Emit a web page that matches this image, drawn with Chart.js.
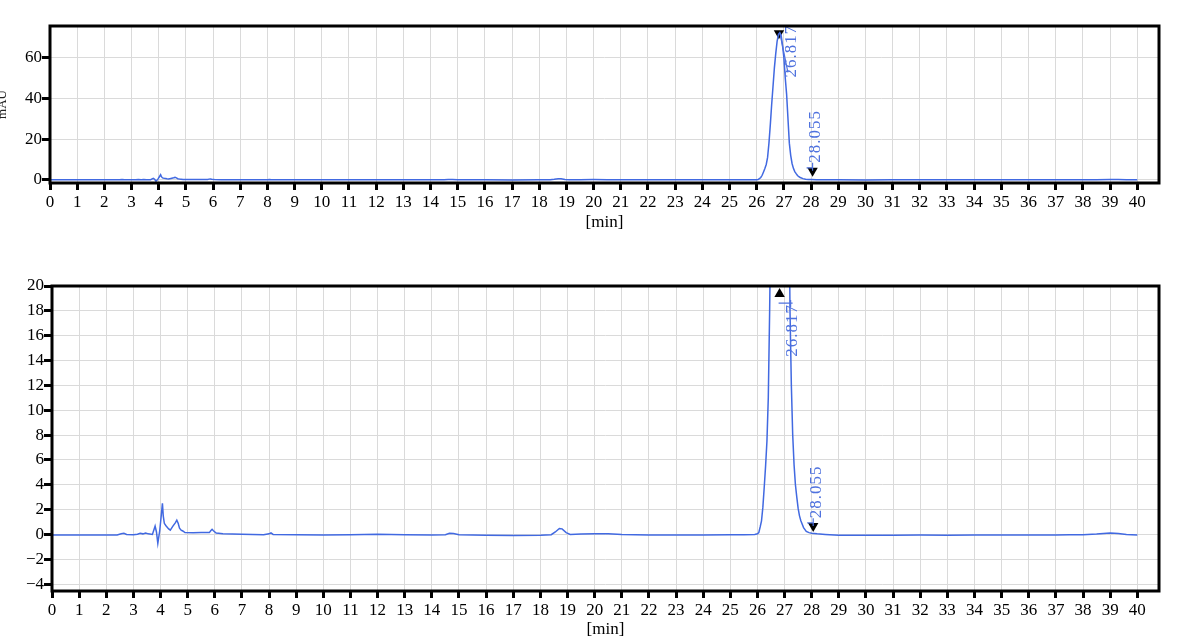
<!DOCTYPE html>
<html><head><meta charset="utf-8">
<script src="https://cdn.jsdelivr.net/npm/chart.js@4.4.1/dist/chart.umd.min.js"></script>
<style>
html,body{margin:0;padding:0;background:#fff;width:1193px;height:644px;overflow:hidden}
#top{position:absolute;left:0;top:0;width:1193px;height:240px}
#bot{position:absolute;left:0;top:240px;width:1193px;height:404px}
</style></head><body>
<div id="top"><canvas id="c1"></canvas></div>
<div id="bot"><canvas id="c2"></canvas></div>
<script>
// ---- data (retention time in min, absorbance in mAU) ----
const times = [
  0, 0.5, 1.0, 1.5, 2.0, 2.4, 2.55, 2.65, 2.75, 3.0, 3.15, 3.25, 3.35, 3.45, 3.55, 3.7,
  3.8, 3.85, 3.9, 3.97, 4.03, 4.07, 4.1, 4.14, 4.2, 4.3, 4.36, 4.45, 4.55, 4.6, 4.65, 4.7,
  4.76, 4.82, 4.9, 5.2, 5.5, 5.8, 5.85, 5.9, 5.95, 6.05, 6.3, 7.0, 7.8, 8.0, 8.07, 8.15,
  9, 10, 11, 12, 13, 14, 14.5, 14.65, 14.8, 15, 16, 17, 18, 18.4, 18.55, 18.7, 18.8, 18.95,
  19.1, 19.5, 20.0, 20.5, 21.0, 22, 23, 24, 25, 25.5, 25.9, 26.0, 26.05, 26.1, 26.15, 26.2,
  26.25, 26.3, 26.35, 26.4, 26.45, 26.5, 26.55, 26.6, 26.65, 26.7, 26.75, 26.8, 26.85, 26.9,
  26.95, 27.0, 27.05, 27.1, 27.15, 27.2, 27.25, 27.3, 27.35, 27.4, 27.45, 27.5, 27.55, 27.6,
  27.7, 27.8, 27.9, 28.0, 28.2, 28.5, 29, 30, 31, 32, 33, 34, 35, 36, 37, 37.5, 38.0, 38.5,
  39.0, 39.3, 39.6, 40.0
];
const signal = [
  -0.05, -0.05, -0.04, -0.05, -0.05, -0.04, 0.05, 0.1, 0.0, -0.02, 0.02, 0.1, 0.05, 0.12, 0.05, 0.0,
  0.67, 0.2, -0.72, 0.3, 1.6, 2.5, 1.5, 0.9, 0.7, 0.45, 0.35, 0.65, 0.95, 1.15, 0.9, 0.5,
  0.35, 0.28, 0.15, 0.14, 0.15, 0.15, 0.3, 0.42, 0.3, 0.12, 0.05, 0.02, -0.02, 0.05, 0.12, 0.0,
  -0.03, -0.04, -0.02, 0.02, -0.03, -0.05, -0.02, 0.1, 0.08, -0.02, -0.06, -0.08, -0.06, -0.02, 0.2, 0.48, 0.45, 0.15,
  0.0, 0.04, 0.06, 0.05, 0.0, -0.05, -0.04, -0.04, -0.03, -0.02, 0.0, 0.05, 0.15, 0.6, 1.1, 2.2,
  3.8, 5.5, 7.5, 11, 18, 27, 37, 46, 55, 62, 68, 71.5, 72.3, 71,
  66, 60, 50, 42, 30, 18, 12, 8, 5.6, 4, 3, 2.1, 1.5, 1.1,
  0.55, 0.25, 0.15, 0.1, 0.05, 0.0, -0.06, -0.07, -0.06, -0.05, -0.06, -0.05, -0.04, -0.05, -0.05, -0.03, -0.02, 0.03,
  0.12, 0.08, 0.0, -0.04
];
const xTicks = [0,1,2,3,4,5,6,7,8,9,10,11,12,13,14,15,16,17,18,19,20,21,22,23,24,25,26,27,28,29,30,31,32,33,34,35,36,37,38,39,40];
const yTicksTop = [0, 20, 40, 60];
const yTicksBottom = [-4, -2, 0, 2, 4, 6, 8, 10, 12, 14, 16, 18, 20];
const peakTimes = [26.817, 28.055];
const peakLabels = ['26.817', '28.055'];
const markerTop = [72, 4.4];
const markerBottom = [19.35, 0.69];
const xTitle = '[min]';
const yTitle = 'mAU';

// ---- styling ----
const LINE = '#4169e1';
const LABEL = '#4f72de';
const tickFont = {family: '"Liberation Serif", "DejaVu Serif", serif', size: 17};

const boxPlugin = {
  id: 'box',
  afterDraw(chart) {
    const {ctx, chartArea: a} = chart;
    ctx.save();
    ctx.strokeStyle = '#000';
    ctx.lineWidth = 3;
    ctx.strokeRect(a.left, a.top, a.right - a.left, a.bottom - a.top);
    ctx.restore();
  }
};

const peakPlugin = {
  id: 'peaks',
  afterDatasetsDraw(chart, args, o) {
    const {ctx, scales: {x, y}} = chart;
    ctx.save();
    ctx.font = '17px "Liberation Serif", serif';
    ctx.fillStyle = LABEL;
    ctx.strokeStyle = LABEL;
    ctx.lineWidth = 1.2;
    try { ctx.letterSpacing = '1px'; } catch (e) {}
    peakTimes.forEach((t, i) => {
      const px = x.getPixelForValue(t);
      const lx = px + o.dx[i];
      const ly = y.getPixelForValue(o.anchor[i]);
      const my = y.getPixelForValue(o.marker[i]);
      ctx.save();
      ctx.translate(lx, ly);
      ctx.rotate(-Math.PI / 2);
      ctx.textAlign = 'left';
      ctx.textBaseline = 'middle';
      ctx.fillText(peakLabels[i], 0, 0);
      ctx.restore();
      ctx.beginPath();
      if (o.leader[i] === 'slant') {
        ctx.moveTo(px + 1, my);
        ctx.lineTo(lx - 4, ly - 5);
      } else if (o.leader[i] === 'cross') {
        ctx.moveTo(px - 1, my + 9);
        ctx.lineTo(lx, my + 9);
        ctx.moveTo(lx - 2, my + 6);
        ctx.lineTo(lx - 2, my + 13);
      } else {
        ctx.moveTo(px, ly);
        ctx.lineTo(px, my);
        ctx.moveTo(px - 6, my - 3);
        ctx.lineTo(px, my - 3);
      }
      ctx.stroke();
    });
    ctx.restore();
  }
};

function makeChart(id, yMin, yMax, yTicks, markers, rotations, pad, xH, yW, xTitlePad, showYTitle, peakOpts) {
  const lineData = times.map((t, i) => ({x: t, y: signal[i]}));
  const markData = peakTimes.map((t, i) => ({x: t, y: markers[i]}));
  return new Chart(document.getElementById(id), {
    type: 'line',
    data: {
      datasets: [
        {data: lineData, borderColor: LINE, borderWidth: 1.5, pointRadius: 0, tension: 0, fill: false},
        {data: markData, showLine: false, pointStyle: 'triangle', pointRadius: 6,
         pointRotation: rotations, pointBackgroundColor: '#000', pointBorderColor: '#000',
         pointBorderWidth: 0, clip: false}
      ]
    },
    options: {
      responsive: true,
      maintainAspectRatio: false,
      animation: false,
      devicePixelRatio: 1,
      layout: {padding: pad},
      plugins: {legend: {display: false}, tooltip: {enabled: false}, peaks: peakOpts},
      scales: {
        x: {
          type: 'linear', min: 0, max: 40.8,
          afterBuildTicks: s => { s.ticks = xTicks.map(v => ({value: v})); },
          afterFit: s => { s.height = xH; },
          ticks: {autoSkip: false, maxRotation: 0, font: tickFont, color: '#000', padding: 2},
          grid: {color: '#dadada', lineWidth: 1, tickColor: '#000', tickWidth: 3, tickLength: 7},
          border: {display: false},
          title: {display: true, text: xTitle, font: tickFont, color: '#000', padding: {top: 0, bottom: xTitlePad}}
        },
        y: {
          type: 'linear', min: yMin, max: yMax,
          afterBuildTicks: s => { s.ticks = yTicks.map(v => ({value: v})); },
          afterFit: s => { s.width = yW; },
          ticks: {font: tickFont, color: '#000', padding: 0,
                  callback: v => (v < 0 ? '\u2212' + Math.abs(v) : String(v))},
          grid: {color: '#dadada', lineWidth: 1, tickColor: '#000', tickWidth: 3, tickLength: 8},
          border: {display: false},
          title: {display: showYTitle, text: yTitle, font: {family: '"Liberation Serif", serif', size: 13}, color: '#222', padding: {top: -5, bottom: 0}}
        }
      }
    },
    plugins: [boxPlugin, peakPlugin]
  });
}

makeChart('c1', -1.6, 75.6, yTicksTop, markerTop, [180, 180],
  {left: 0, right: 34, top: 26, bottom: 0}, 57, 50, 7, true,
  {dx: [13, 3], anchor: [50.3, 8.4], marker: markerTop, leader: ['slant', 'plus']});
makeChart('c2', -4.55, 20, yTicksBottom, markerBottom, [0, 180],
  {left: 0, right: 34, top: 46, bottom: 0}, 53, 52, 4, false,
  {dx: [13, 3], anchor: [14.3, 1.3], marker: markerBottom, leader: ['cross', 'plus']});
</script>
</body></html>
